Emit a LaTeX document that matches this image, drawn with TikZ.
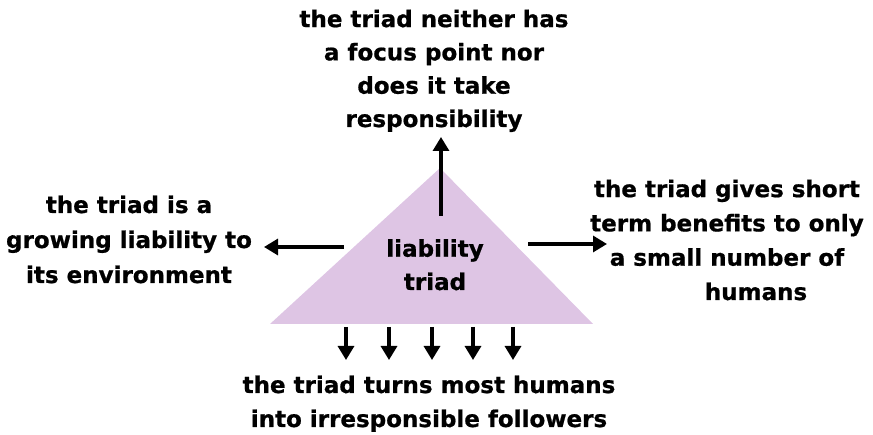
\documentclass[tikz,border=0pt]{standalone}
\usepackage{fontspec}
\newfontfamily\lblfont[BoldFeatures={FakeBold=0.8}]{DejaVu Sans}
\usetikzlibrary{arrows.meta}
\definecolor{triadfill}{RGB}{222,197,228}
\tikzset{
  lbl/.style={font=\lblfont\bfseries\fontsize{23}{33.3}\selectfont, align=center, inner sep=0pt, anchor=base},
  arr/.style={line width=3.2pt, -{Triangle[length=14pt,width=16pt]}}
}
\begin{document}
\begin{tikzpicture}[x=1pt,y=-1pt]
\useasboundingbox (0,0) rectangle (873,435);
% triangle
\coordinate (apex) at (440,168);
\coordinate (bl) at (270,324);
\coordinate (br) at (593,324);
\fill[triadfill] (apex) -- (br) -- (bl) -- cycle;
% labels (anchor = baseline of last line)
\node[lbl] (centre) at (435,290) {liability\\triad};
\node[lbl] (top) at (434,127) {the triad neither has\\a focus point nor\\does it take\\responsibility};
\node[lbl, font=\lblfont\bfseries\fontsize{23}{35}\selectfont] (left) at (129,283) {the triad is a\\growing liability to\\its environment};
\node[lbl, font=\lblfont\bfseries\fontsize{23}{34.3}\selectfont] (right) at (727,300) {the triad gives short\\term benefits to only\\a small number of\\\hspace*{58pt}humans};
\node[lbl, font=\lblfont\bfseries\fontsize{23}{34}\selectfont] (bottom) at (429,427) {the triad turns most humans\\into irresponsible followers};
% arrow anchors
\coordinate (us) at (441,216); \coordinate (ue) at (441,137);
\coordinate (ls) at (344,247); \coordinate (le) at (264,247);
\coordinate (rs) at (528,244); \coordinate (re) at (607,244);
\draw[arr] (us) -- (ue);
\draw[arr] (ls) -- (le);
\draw[arr] (rs) -- (re);
\foreach \i/\x in {1/346,2/389,3/432,4/473,5/513} {
  \coordinate (ds\i) at (\x,327);
  \coordinate (de\i) at (\x,360);
  \draw[arr] (ds\i) -- (de\i);
}
\end{tikzpicture}
\end{document}
